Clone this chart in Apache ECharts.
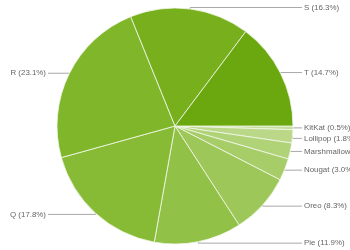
<!DOCTYPE html>
<html>
<head>
<meta charset="utf-8">
<script src="https://cdn.jsdelivr.net/npm/echarts@6/dist/echarts.min.js"></script>
<style>html,body{margin:0;padding:0;background:#fff;}#c{width:350px;height:250px;}</style>
</head>
<body>
<div id="c"></div>
<script>
var categories = ['KitKat', 'Lollipop', 'Marshmallow', 'Nougat', 'Oreo', 'Pie', 'Q', 'R', 'S', 'T'];
var shares = [0.5, 1.8, 2.2, 3.0, 8.3, 11.9, 17.8, 23.1, 16.3, 14.7];
var colors = ['#C4DE99', '#BAD888', '#B0D378', '#A7CD68', '#9DC758', '#92C147', '#87BB36', '#80B72A', '#77B01C', '#6BA80F'];

var chart = echarts.init(document.getElementById('c'), null, {renderer: 'canvas'});
var LABEL_MARGIN = 46;
chart.setOption({
  animation: false,
  backgroundColor: '#ffffff',
  series: [{
    type: 'pie',
    center: [175, 126],
    radius: 118,
    startAngle: 0,
    clockwise: true,
    avoidLabelOverlap: true,
    itemStyle: {borderColor: '#f4f8ec', borderWidth: 0.8},
    label: {
      position: 'outside',
      formatter: function (p) { return p.name + ' (' + Number(p.value).toFixed(1) + '%)'; },
      fontFamily: 'Liberation Sans, Arial, sans-serif',
      fontSize: 7.9,
      lineHeight: 8.5,
      color: '#666666',
      overflow: 'none',
      bleedMargin: 0
    },
    labelLine: {
      show: true,
      length: 1.5,
      length2: 8,
      smooth: false,
      lineStyle: {color: '#a8a8a8', width: 1}
    },
    emphasis: {disabled: true},
    labelLayout: function (p) {
      var W = chart.getWidth();
      var pts = p.labelLinePoints;
      var isRight = p.align === 'left';
      var ly = p.labelRect.y + p.labelRect.height / 2;
      var lx = isRight ? W - LABEL_MARGIN : LABEL_MARGIN;
      var endX = isRight ? lx - 2 : lx + 2;
      var e = pts ? pts[0] : [lx, ly];
      var bend;
      if (Math.abs(e[1] - ly) <= 3) {
        bend = [e[0], ly];
      } else {
        bend = [isRight ? endX - 2 : endX + 2, ly];
      }
      return {
        x: lx,
        y: ly,
        align: isRight ? 'left' : 'right',
        verticalAlign: 'middle',
        labelLinePoints: [e, bend, [endX, ly]]
      };
    },
    data: categories.map(function (n, i) {
      return {name: n, value: shares[i], itemStyle: {color: colors[i]}};
    })
  }]
});
</script>
</body>
</html>
